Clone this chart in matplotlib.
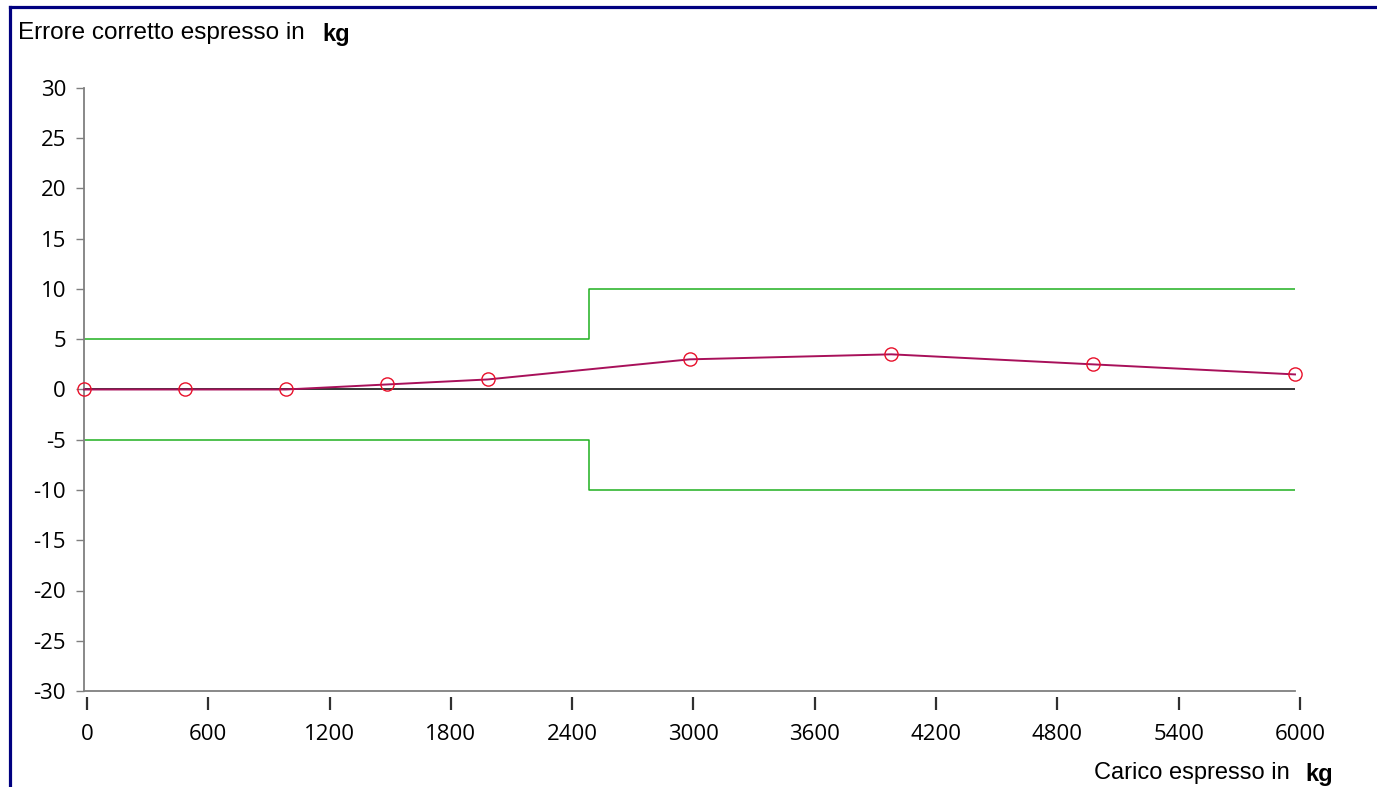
import matplotlib.pyplot as plt
from matplotlib.lines import Line2D

plt.rcParams['axes.unicode_minus'] = False

# data
carico = [0, 500, 1000, 1500, 2000, 3000, 4000, 5000, 6000]
errore = [0, 0, 0, 0.5, 1, 3, 3.5, 2.5, 1.5]
limite_x = [0, 2500, 2500, 6000]
limite_sup = [5, 5, 10, 10]
limite_inf = [-5, -5, -10, -10]
x_ticks = list(range(0, 6001, 600))
y_ticks = list(range(-30, 31, 5))

W, H = 1377, 787
fig = plt.figure(figsize=(W / 100, H / 100), dpi=100)
ax = fig.add_axes([84 / W, 1 - 691 / H, (1295 - 84) / W, (691 - 88) / H])

ax.plot(limite_x, limite_sup, color='#1FB01F', lw=1.1)
ax.plot(limite_x, limite_inf, color='#1FB01F', lw=1.1)
ax.plot([0, 6000], [0, 0], color='black', lw=1.1)
ax.plot(carico, errore, color='#A8105A', lw=1.4, marker='o', markersize=9.5,
        markerfacecolor='none', markeredgecolor='#E8102A', markeredgewidth=1.0,
        clip_on=False, zorder=5)

ax.set_xlim(0, 6000)
ax.set_ylim(-30, 30)
ax.set_yticks(y_ticks)
ax.tick_params(axis='y', direction='out', length=6, width=1, color='#7F7F7F',
               labelsize=16, pad=7)
ax.tick_params(axis='x', bottom=False, labelbottom=False)
for s in ['top', 'right']:
    ax.spines[s].set_visible(False)
for s in ['left', 'bottom']:
    ax.spines[s].set_color('#7F7F7F')
    ax.spines[s].set_linewidth(1.3)
for lab in ax.get_yticklabels():
    lab.set_family('Open Sans')

# category axis ticks sit slightly right of the plot and detached from it
tx = fig.add_axes([87 / W, 1 - 697 / H, (1300 - 87) / W, 0.001])
tx.set_xlim(0, 6000)
tx.set_yticks([])
tx.patch.set_visible(False)
for s in tx.spines.values():
    s.set_visible(False)
tx.set_xticks(x_ticks)
tx.tick_params(direction='out', length=9.5, width=1.6, color='#303030',
               labelsize=16, pad=10)
for lab in tx.get_xticklabels():
    lab.set_family('Open Sans')

# axis titles
fig.text(18 / W, 1 - 33 / H, 'Errore corretto espresso in', fontsize=17.5,
         family='Liberation Sans', va='center', ha='left')
fig.text(322 / W, 1 - 35 / H, 'kg', fontsize=17, family='Liberation Sans',
         weight='bold', va='center', ha='left')
fig.text(1094 / W, 1 - 773 / H, 'Carico espresso in', fontsize=17,
         family='Liberation Sans', va='center', ha='left')
fig.text(1305 / W, 1 - 775 / H, 'kg', fontsize=17, family='Liberation Sans',
         weight='bold', va='center', ha='left')

# chart frame
fig.add_artist(Line2D([10 / W, 1], [1 - 7 / H, 1 - 7 / H], color='#000080', lw=2.3))
fig.add_artist(Line2D([10 / W, 10 / W], [0, 1 - 7 / H], color='#000080', lw=2.3))

fig.savefig('out.png', dpi=100)
